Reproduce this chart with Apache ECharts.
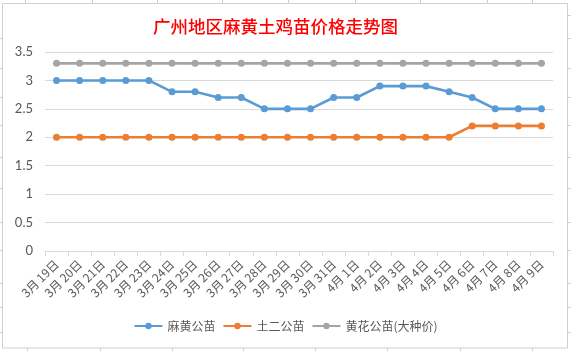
<!DOCTYPE html>
<html>
<head>
<meta charset="utf-8">
<script src="https://cdn.jsdelivr.net/npm/echarts@6/dist/echarts.min.js"></script>
<style>html,body{margin:0;padding:0;background:#fff}#c{width:571px;height:351px}</style>
</head>
<body>
<div id="c"></div>
<script>
var titleText = '广州地区麻黄土鸡苗价格走势图';
var categories = ['3月19日','3月20日','3月21日','3月22日','3月23日','3月24日','3月25日','3月26日','3月27日','3月28日','3月29日','3月30日','3月31日','4月1日','4月2日','4月3日','4月4日','4月5日','4月6日','4月7日','4月8日','4月9日'];
var seriesNames = ['麻黄公苗','土二公苗','黄花公苗(大种价)'];
var mahuang = [3,3,3,3,3,2.8,2.8,2.7,2.7,2.5,2.5,2.5,2.7,2.7,2.9,2.9,2.9,2.8,2.7,2.5,2.5,2.5];
var tuer = [2,2,2,2,2,2,2,2,2,2,2,2,2,2,2,2,2,2,2.2,2.2,2.2,2.2];
var huanghua = [3.3,3.3,3.3,3.3,3.3,3.3,3.3,3.3,3.3,3.3,3.3,3.3,3.3,3.3,3.3,3.3,3.3,3.3,3.3,3.3,3.3,3.3];
var colors = ['#5B9BD5','#ED7D31','#A5A5A5'];

var chart = echarts.init(document.getElementById('c'), null, {renderer:'canvas'});
var gl = '#d9d9d9';
var stubs = [];
function vline(x,y1,y2){stubs.push({type:'line',silent:true,shape:{x1:x,y1:y1,x2:x,y2:y2},style:{stroke:'#d0d0d0',lineWidth:1}});}
function hline(y,x1,x2){stubs.push({type:'line',silent:true,shape:{x1:x1,y1:y,x2:x2,y2:y},style:{stroke:'#d0d0d0',lineWidth:1}});}
[25.5,92.5,157.5,222.5,288.5,355.5,420.5,487.5,532.5].forEach(function(x){vline(x,0,3);});
[27.5,100.5,172.5,243.5,315.5,387.5,460.5,532.5].forEach(function(x){vline(x,348,351);});
[38.5,68.5,97.5,125.5,157.5,188.5,222.5,250.5,283.5,307.5,332.5].forEach(function(y){hline(y,0,2);});
[15.5,38.5,68.5,97.5,125.5,157.5,188.5,222.5,250.5,283.5,307.5,332.5].forEach(function(y){hline(y,568,571);});
stubs.push({type:'rect',silent:true,z:-1,shape:{x:2.5,y:3.5,width:565,height:344.5},style:{fill:'#fff',stroke:'#d0d0d0',lineWidth:1}});

var series = [mahuang, tuer, huanghua].map(function(d,i){
  return {
    name: seriesNames[i], type:'line', data:d, symbol:'circle', symbolSize:7,
    itemStyle:{color:colors[i]}, lineStyle:{color:colors[i], width:2.6},
    emphasis:{disabled:true}, z: 3 - i
  };
});

chart.setOption({
  animation:false,
  backgroundColor:'#fff',
  textStyle:{fontFamily:'"Noto Sans CJK SC", sans-serif'},
  title:{text:titleText, left:148, top:13,
    textStyle:{color:'#FF0000', fontSize:17.5, fontWeight:500, fontFamily:'"Noto Sans CJK SC", serif'}},
  graphic: stubs,
  legend:{
    data: seriesNames, bottom:14, left:'center', itemWidth:28, itemHeight:8, itemGap:7,
    textStyle:{color:'#595959', fontSize:12, fontFamily:'"Noto Sans CJK SC", sans-serif'}
  },
  grid:{left:45, right:18, top:52, bottom:100},
  xAxis:{
    type:'category', data:categories, boundaryGap:true,
    axisLine:{lineStyle:{color:gl}},
    axisTick:{show:true, length:5, lineStyle:{color:gl}},
    axisLabel:{rotate:45, color:'#595959', fontSize:12, margin:11, interval:0,
      formatter:function(v){return v.replace('月','月 ');},
      fontFamily:'"Noto Sans CJK SC", sans-serif'}
  },
  yAxis:{
    type:'value', min:0, max:3.5, interval:0.5,
    axisLine:{show:false}, axisTick:{show:false},
    splitLine:{lineStyle:{color:gl}},
    axisLabel:{color:'#595959', fontSize:13, margin:12, fontFamily:'Lato, "Noto Sans", sans-serif'}
  },
  series: series
});
</script>
</body>
</html>
